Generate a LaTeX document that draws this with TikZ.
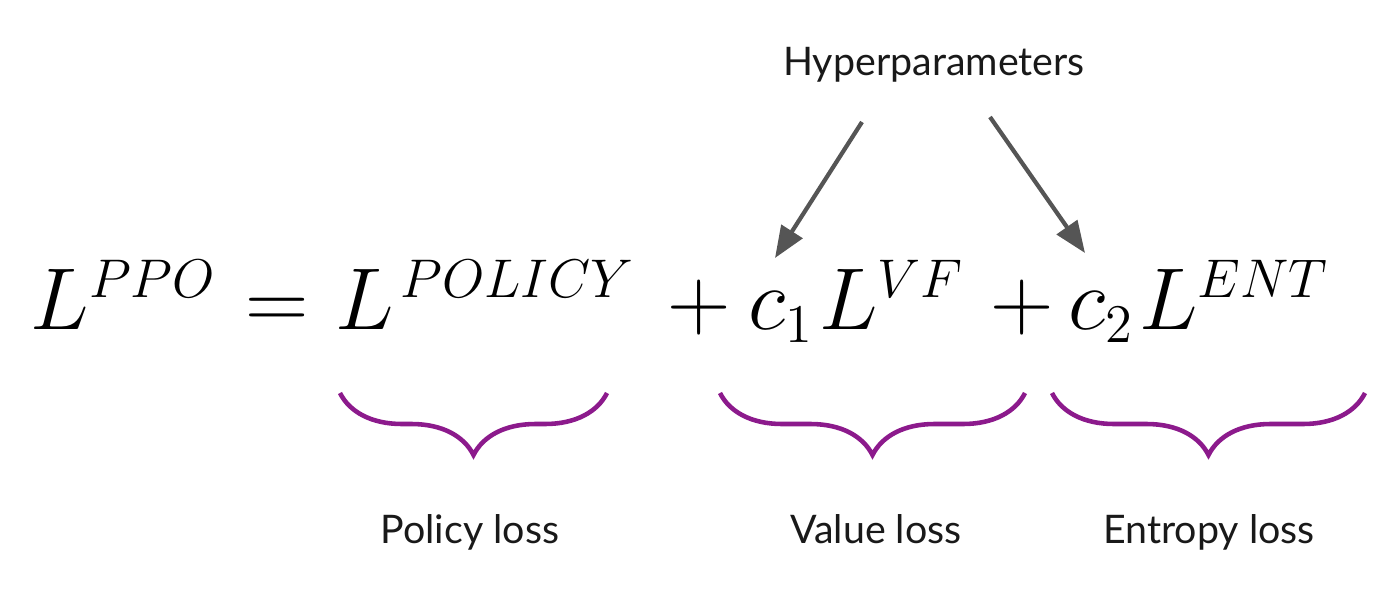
\RequirePackage{fix-cm}
\documentclass[tikz,border=0pt]{standalone}
\usepackage[no-math]{fontspec}
\setmainfont{Lato}
\usetikzlibrary{arrows.meta,decorations.pathreplacing}
\DeclareMathSizes{25}{25}{15.5}{12}
\definecolor{bracepurple}{RGB}{140,26,140}
\definecolor{arrowgray}{RGB}{85,85,85}
\definecolor{labelblack}{RGB}{25,25,25}

\begin{document}
\begin{tikzpicture}
[eqpart/.style={anchor=base west, inner sep=0pt, font=\fontsize{25}{30}\selectfont},
 lbl/.style={anchor=base, inner sep=0pt, text=labelblack, font=\fontsize{11.2}{14}\selectfont},
 termbrace/.style={draw=bracepurple, line width=1.3pt, decorate,
                   decoration={brace, amplitude=0.62cm}},
 hyperarrow/.style={draw=arrowgray, line width=1.2pt,
                    -{Triangle[length=9pt,width=7pt]}}]
  \useasboundingbox (0,0) rectangle (14,6.14);
  % the loss
  \node[eqpart] (ppo) at (0.30,2.85) {$L^{PPO}$};
  \node[eqpart] (eq)  at (2.45,2.85) {$=$};
  \node[eqpart] (pol) at (3.35,2.85) {$L^{\mkern2mu POLICY}$};
  \node[eqpart] (plusA) at (6.67,2.85) {$+$};
  \node[eqpart] (vf)  at (7.48,2.85) {$c_1\mkern1mu L^{VF}$};
  \node[eqpart] (plusB) at (9.90,2.85) {$+$};
  \node[eqpart] (ent) at (10.68,2.85) {$c_2\mkern1mu L^{ENT}$};
  % hyperparameters
  \node[lbl] (hyper) at (9.34,5.39) {Hyperparameters};
  \coordinate (hypA) at (8.62,4.92);
  \coordinate (hypB) at (9.90,4.97);
  \coordinate (cA) at (7.75,3.56);
  \coordinate (cB) at (10.85,3.61);
  \draw[hyperarrow] (hypA) -- (cA);
  \draw[hyperarrow] (hypB) -- (cB);
  % braces
  \coordinate (polR) at (6.07,2.21);  \coordinate (polL) at (3.40,2.21);
  \coordinate (vfR)  at (10.25,2.21); \coordinate (vfL)  at (7.20,2.21);
  \coordinate (entR) at (13.65,2.21); \coordinate (entL) at (10.52,2.21);
  \draw[termbrace] (polR) -- (polL);
  \draw[termbrace] (vfR) -- (vfL);
  \draw[termbrace] (entR) -- (entL);
  \node[lbl] (polloss) at (4.70,0.71) {Policy loss};
  \node[lbl] (vfloss)  at (8.76,0.71) {Value loss};
  \node[lbl] (entloss) at (12.09,0.71) {Entropy loss};
\end{tikzpicture}
\end{document}
